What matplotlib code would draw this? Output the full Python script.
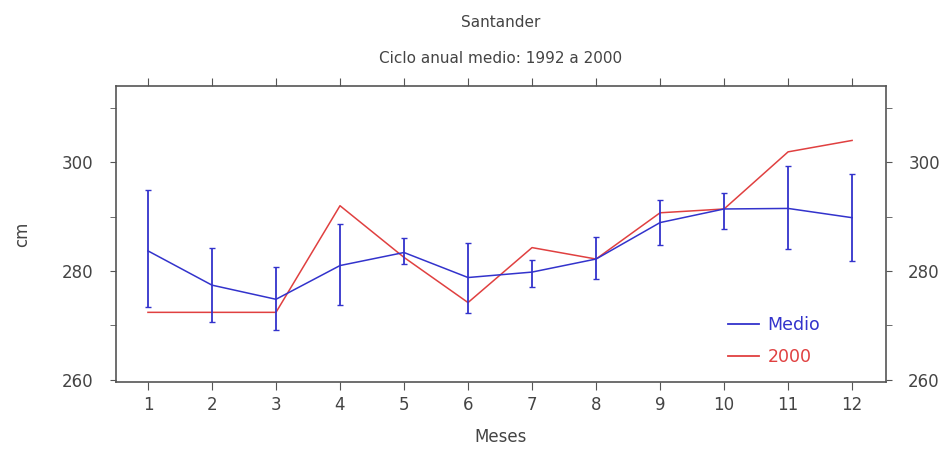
import matplotlib
matplotlib.use('Agg')
import matplotlib.pyplot as plt
from matplotlib.lines import Line2D

# --- Data ---
months = [1, 2, 3, 4, 5, 6, 7, 8, 9, 10, 11, 12]
medio = [283.7, 277.4, 274.8, 281.0, 283.4, 278.8, 279.8, 282.2, 288.9, 291.4, 291.5, 289.8]
medio_top = [294.8, 284.2, 280.7, 288.6, 286.1, 285.2, 282.0, 286.3, 293.0, 294.4, 299.3, 297.9]
medio_bot = [273.4, 270.6, 269.1, 273.8, 281.2, 272.2, 277.0, 278.6, 284.7, 287.8, 284.0, 281.9]
year_2000 = [272.4, 272.4, 272.4, 292.0, 282.5, 274.2, 284.3, 282.2, 290.7, 291.4, 301.9, 304.0]

text_color = '#444444'
axis_color = '#555555'
blue = '#3333cc'
red = '#e04040'

fig = plt.figure(figsize=(9.52, 4.61), dpi=100)
ax = fig.add_axes([0.1218, 0.1714, 0.8089, 0.642])

err_lo = [m - b for m, b in zip(medio, medio_bot)]
err_hi = [t - m for m, t in zip(medio, medio_top)]

ax.plot(months, year_2000, color=red, lw=1.1, zorder=2)
ax.errorbar(months, medio, yerr=[err_lo, err_hi], color=blue, ecolor=blue,
            elinewidth=1.3, capsize=2, lw=1.1, zorder=3)

ax.set_xlim(0.5, 12.53)
ax.set_ylim(259.6, 314)
ax.set_xticks(months)
ax.set_yticks([260, 280, 300])
ax.set_yticks([270, 290, 310], minor=True)

for s in ax.spines.values():
    s.set_color(axis_color)
    s.set_linewidth(1.2)

ax.tick_params(axis='x', which='both', direction='out', top=True, bottom=True,
               labeltop=False, length=6, color=axis_color, labelcolor=text_color,
               labelsize=12, pad=4)
ax.tick_params(axis='y', which='both', direction='out', left=True, right=True,
               labelright=True, length=4, color=axis_color, labelcolor=text_color,
               labelsize=12, pad=12)

ax.set_xlabel('Meses', color=text_color, fontsize=12, labelpad=10)
ax.set_ylabel('cm', color=text_color, fontsize=12, labelpad=22)

fig.text(0.526, 0.952, 'Santander', ha='center', va='center', color=text_color, fontsize=11)
fig.text(0.526, 0.874, 'Ciclo anual medio: 1992 a 2000', ha='center', va='center',
         color=text_color, fontsize=11)

proxies = [Line2D([], [], color=blue, lw=1.3), Line2D([], [], color=red, lw=1.3)]
leg = ax.legend(proxies, ['Medio', '2000'], loc='lower right',
                bbox_to_anchor=(0.935, 0.0), frameon=False, handlelength=1.8,
                handletextpad=0.5, labelspacing=0.8, fontsize=12.5)
for txt, col in zip(leg.get_texts(), [blue, red]):
    txt.set_color(col)

plt.savefig('out.png', dpi=100)
